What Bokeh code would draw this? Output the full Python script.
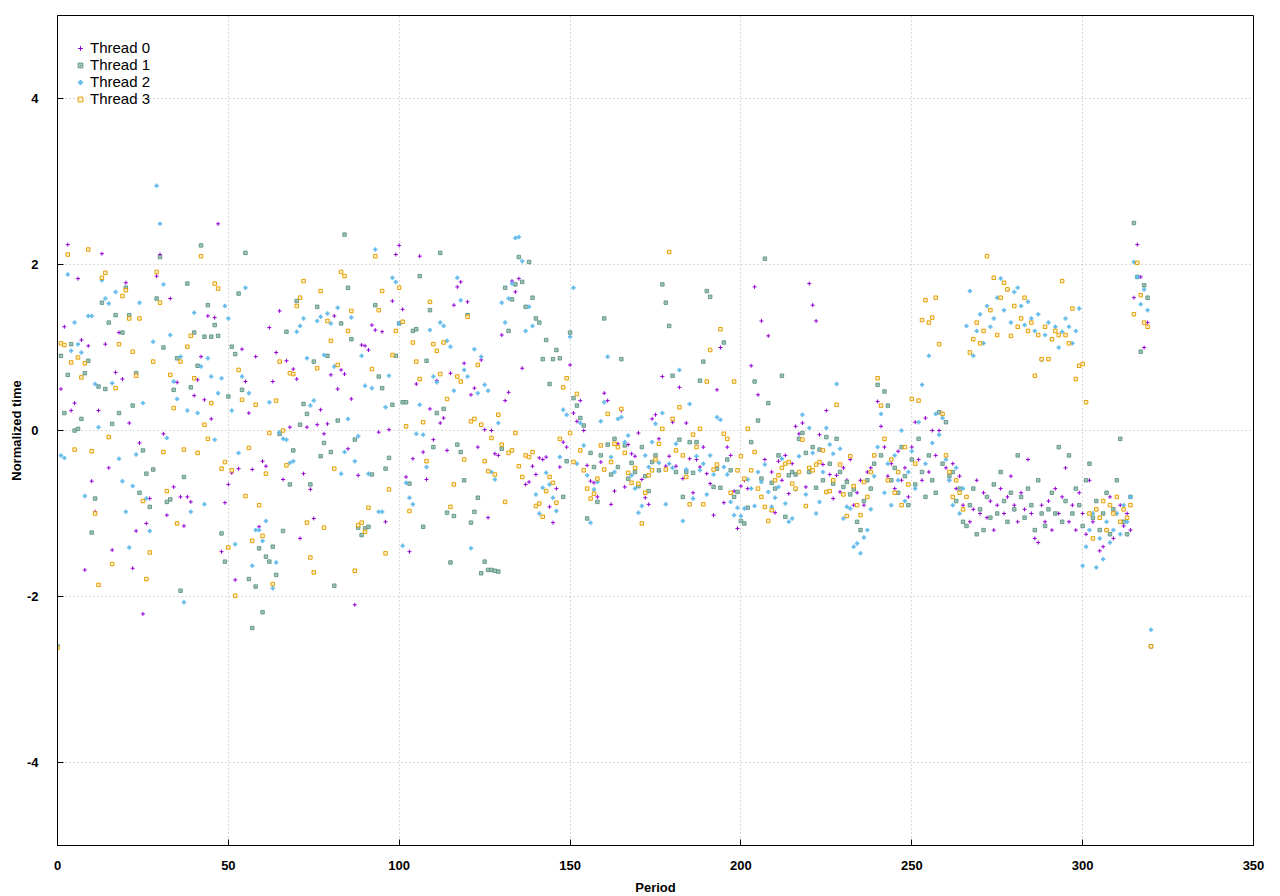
from bokeh.plotting import figure
from bokeh.models import ColumnDataSource, SingleIntervalTicker, Legend, LegendItem, Range1d
from bokeh.embed import file_html
from bokeh.resources import INLINE

periods = list(range(0, 321))

thread0 = [
 -2.6, 0.5, 1.25, 2.24, 0.24, 0.33, 1.83, 1.09, -1.68, 1.02,
 -0.61, -0.98, 0.24, 2.13, 1.04, -0.45, -1.44, 0.7, 1.18, 0.62,
 1.78, 0.09, -1.66, -1.21, -0.15, -2.21, -1.12, -0.82, -0.47, 1.86,
 2.12, -0.04, -1.02, 1.59, -0.68, 0.58, -0.8, -1.15, -0.80, -0.86,
 0.42, 0.61, 0.89, 0.37, 1.38, 0.14, 1.36, 2.49, -1.46, -0.87,
 -0.65, -0.51, -1.80, -0.46, 0.98, 0.59, 0.21, -0.47, 0.89, -1.16,
 -0.37, -0.43, 1.24, 0.59, 0.94, 1.44, -0.59, 0.84, 0.04, 0.74,
 0.62, -1.30, -0.52, 0.04, -0.71, -1.06, 0.07, 0.25, -0.04, 0.08,
 0.67, 1.38, 0.5, 0.73, 0.68, -0.22, 0.38, -2.10, -0.54, 1.03,
 1.02, 0.97, 1.27, 1.21, -0.02, 1.19, -1.10, 0.01, 1.56, 2.12,
 2.23, 1.46, -0.56, -1.46, -0.34, 0.56, 2.10, -0.26, -0.59, 0.26,
 -0.11, 0.6, 0.09, 0.15, -0.24, 0.69, 1.51, 1.73, 1.79, 0.81,
 1.55, 0.43, 0.51, -0.2, 0.85, 0.01, -1.05, 0.0, -0.28, -0.30,
 1.15, 0.36, 0.46, 1.80, 1.67, 1.83, 0.75, -0.65, -0.62, -0.43,
 -0.53, -0.33, -0.35, -0.32, -0.92, -1.11, -0.7, -0.44, -0.14, -0.2,
 0.79, 0.21, 0.11, 0.36, 0.0, -0.42, -0.61, -0.63, -0.80, -0.38,
 0.45, 0.36, -0.89, -0.73, -0.16, 0.24, -0.68, -0.17, -0.28, -0.31,
 -0.03, -0.59, -0.81, -0.89, 0.14, 0.19, -0.10, 0.65, -0.43, -0.31,
 0.10, -0.43, 0.52, -0.58, 0.09, -0.34, -0.75, -0.35, -0.44, -0.2,
 -0.52, -0.64, -1.02, 0.49, 1.00, -0.87, -0.20, -0.3, -0.73, -1.18,
 -0.67, -0.6, -0.70, 0.78, 1.73, 0.43, 1.32, -0.35, 1.14, -0.5,
 -0.99, -0.37, -0.6, -0.3, -0.76, -0.40, 0.05, -0.04, 0.09, -0.68,
 1.77, 1.51, 1.32, -0.05, -0.41, 0.24, -0.53, -0.82, -0.54, -0.74,
 -0.45, -0.6, -0.35, -0.9, -0.75, -0.6, -0.9, -0.5, -0.45, -0.3,
 0.35, 0.05, -0.2, -0.55, -0.4, -0.7, -0.25, -0.6, -0.45, -0.8,
 -0.2, 0.1, -0.35, -0.6, 0.15, -0.5, 0.0, -0.3, 0.0, 0.2,
 -0.45, -0.6, -0.4, -0.7, -0.55, -0.9, -0.8, -1.1, -0.95, -0.6,
 -1.0, -0.75, -1.05, -0.85, -1.2, -0.9, -0.7, -1.0, -0.8, -0.55,
 -0.9, -1.1, -0.75, -0.95, -0.35, -1.0, -1.3, -1.35, -0.9, -1.1,
 -0.85, -1.2, -0.7, -1.0, -0.8, -0.45, -1.1, -0.9, -1.2, -0.75,
 -1.0, -1.25, -0.6, -1.1, -0.95, -1.45, -1.4, -1.2, -0.8, -1.3,
 -1.0, -0.9, -1.15, -1.0, -1.2, 1.6, 2.24, 1.85, 1.0, 1.3,
 -2.6,
]

thread1 = [
 -2.6, 0.9, 0.21, 0.67, 1.04, 0.0, 0.02, 0.14, 0.69, 0.84,
 -1.23, -0.82, 0.53, 1.54, 0.5, 1.30, 0.08, 1.39, 0.21, 1.18,
 1.72, 1.39, 0.30, 0.69, -0.75, -0.24, -0.52, -0.92, -0.47, 1.59,
 2.09, 1.0, -0.86, -0.83, 0.49, 0.87, -1.93, -0.56, 1.77, 0.52,
 1.18, 0.78, 2.23, 1.13, 1.51, 1.13, 1.27, 1.14, -1.24, -1.58,
 0.41, 1.01, 0.92, 1.65, 0.49, 2.14, -1.79, -2.38, -1.88, -1.42,
 -2.19, -1.52, -1.58, -1.40, -1.74, -0.04, -1.21, 1.19, -0.65, -0.24,
 1.56, 0.07, 0.32, 0.20, -0.65, 0.83, 1.49, -0.31, -0.15, 0.90,
 -0.26, -1.87, 0.12, 1.29, 2.36, 1.72, 1.10, -0.11, -1.17, -1.26,
 -1.18, -1.16, -0.53, 1.51, 0.65, 0.51, -0.46, -0.33, 0.31, 0.9,
 1.29, 0.34, 0.34, -0.64, 1.20, 1.22, 1.86, -1.16, 0.84, 1.45,
 -0.20, 0.21, 2.14, 0.26, -0.99, -1.59, -1.03, -0.17, -0.26, -0.6,
 1.39, -1.11, -0.98, -0.81, -1.72, -1.58, -1.68, -1.68, -1.69, -1.70,
 -0.22, 1.72, 1.20, 1.58, 1.76, 2.09, 1.79, 1.49, 2.03, 1.60,
 1.35, 1.30, 0.86, 1.09, 0.56, 0.86, 0.97, 0.87, -0.8, -0.37,
 1.18, 0.39, 0.30, 0.15, 0.06, -1.06, -0.27, -0.44, -0.86, -0.3,
 1.35, -0.17, -0.53, -0.10, -0.44, 0.86, -0.18, -0.58, -0.39, -0.5,
 -0.67, -0.2, -0.55, -0.73, -0.38, -0.30, -0.48, 1.76, 1.54, 1.26,
 0.66, -0.5, -0.11, -0.80, -0.50, -0.14, -0.51, -0.14, 0.60, 0.83,
 1.68, 1.61, -0.68, -0.46, -0.69, 1.06, -0.35, -0.48, -0.80, -0.74,
 -1.09, -1.12, -0.93, -0.14, 0.59, 0.12, -0.58, 2.07, 0.33, -0.63,
 -0.7, -0.3, 0.66, -1.04, -0.54, -0.50, -0.53, -0.10, -0.03, -0.27,
 -0.5, -0.2, -0.69, -0.23, -0.6, -0.08, -0.4, -0.64, -0.10, -0.50,
 -0.68, -0.62, -0.77, -0.71, -1.1, -1.2, -0.85, -0.6, -0.7, -0.4,
 0.55, -0.3, 0.47, 0.3, -0.6, -0.45, -0.75, -0.2, -0.55, -0.9,
 -0.35, -0.65, -0.1, -0.5, -0.8, -0.3, -0.6, -0.75, 0.22, -0.4,
 0.1, -0.55, -0.5, -0.85, -0.7, -1.1, -1.15, -0.9, -0.7, -1.25,
 -0.95, -1.2, -0.8, -1.05, -0.65, -1.0, -0.5, -0.85, -1.1, -0.75,
 -0.95, -0.3, -0.8, -1.05, -0.7, -0.9, -1.2, -0.6, -1.0, -1.15,
 -0.95, -0.75, -1.0, -0.2, -1.1, -0.85, -0.3, -1.0, -0.7, -0.9,
 -1.15, -0.6, -0.4, -1.05, -0.85, -1.2, -1.0, -0.75, -1.25, -0.95,
 -0.6, -0.1, -1.1, -1.25, -0.8, 2.5, 1.85, 0.95, 1.75, 1.6,
 -2.6,
]

thread2 = [
 -2.6, -0.3, -0.33, 1.88, 0.96, 1.30, 1.04, 0.94, -0.79, 1.38,
 1.38, 0.56, 0.04, 1.81, 1.59, 1.53, 0.57, 1.67, -0.34, -0.61,
 -0.98, -1.41, -0.67, -0.29, 1.54, 0.33, -0.82, -1.21, 1.07, 2.95,
 2.49, 1.76, -0.09, 1.15, 0.59, 0.38, 0.89, -2.07, 0.24, -0.98,
 1.42, 0.21, 0.77, -0.89, 0.87, 0.65, -0.11, 0.45, 0.63, 1.50,
 1.35, 0.24, -1.37, -0.27, 0.65, 1.72, 0.45, -1.63, -1.20, -1.2,
 -1.33, -1.09, 0.34, -1.90, -1.59, -0.02, -0.10, -0.11, -0.39, -0.37,
 1.19, 1.26, 1.35, 0.87, 0.30, 0.36, 1.32, 1.37, 0.91, 1.41,
 1.29, 0.77, 1.48, -0.52, -0.26, 0.14, 1.36, -0.37, -0.07, 0.90,
 0.54, -0.52, 0.51, 2.18, -0.98, -0.98, 0.28, 0.66, 1.84, 1.79,
 1.29, -1.39, -0.63, -0.81, -0.89, -0.04, 0.31, -0.05, -0.44, 1.21,
 0.65, 0.58, 1.30, 1.26, 1.08, 1.01, 0.48, 1.84, 1.57, 0.73,
 0.65, -1.42, 0.98, 0.45, 0.89, 0.55, 0.48, -0.50, -0.59, 0.09,
 1.54, 1.30, 1.59, 1.77, 2.32, 2.33, 2.04, 1.20, 1.49, 1.26,
 -0.77, -1.00, -0.69, -0.51, -0.65, -0.81, -0.97, -0.32, 0.25, 0.19,
 1.13, 1.72, -0.4, 0.09, -0.18, -0.54, -1.11, -0.71, -0.62, 0.11,
 0.34, 0.89, -0.32, -0.50, 0.14, 0.16, -0.14, -0.06, -0.54, -0.70,
 -0.99, -0.91, -0.3, -0.44, -0.14, 0.08, -0.39, 0.21, -0.89, -0.40,
 -0.45, -0.16, 0.73, -1.09, -0.47, 0.32, -0.82, -0.31, -0.48, -0.40,
 -0.77, -0.3, -0.53, 0.16, 0.13, -0.44, -0.53, -0.86, -1.02, -0.93,
 -1.03, -0.94, -0.59, -0.7, -0.91, -0.5, -0.62, -0.41, -0.74, -0.92,
 -0.81, -0.68, -0.34, -0.88, -1.10, -1.06, -0.71, -0.31, 0.19, -0.77,
 0.03, -0.27, -1.00, -0.86, -0.5, 0.03, -0.17, -0.28, 0.56, -0.22,
 -1.06, -0.92, -0.94, -1.40, -1.36, -1.48, -1.29, -1.2, -0.95, -0.55,
 -0.2, 0.2, -0.75, -0.4, -0.9, -0.3, -0.6, 0.0, -0.85, -0.5,
 -0.25, -0.7, 0.1, 0.55, -0.4, 0.9, -0.15, 0.2, -0.05, 0.15,
 -0.35, -0.6, -0.9, -0.45, -1.0, -0.7, 1.26, 1.68, 0.9, 1.2,
 1.4, 1.05, 1.5, 1.25, 1.35, 1.6, 1.83, 1.45, 1.7, 1.3,
 1.67, 1.72, 1.5, 1.27, 1.55, 1.35, 1.2, 1.4, 0.85, 1.15,
 1.3, 1.1, 1.25, 1.0, 1.19, 1.35, 1.25, 1.05, 1.2, 1.47,
 -1.63, -1.4, -1.2, -1.0, -1.65, -1.3, -1.55, -1.1, -1.35, -1.2,
 -1.0, -1.25, -0.9, -1.1, -0.8, 2.03, 1.85, 1.52, 1.7, 1.45,
 -2.4,
]

thread3 = [
 -2.62, 1.05, 1.03, 2.12, 0.82, -0.23, 0.88, 0.64, 0.81, 2.18,
 -0.25, -1.0, -1.86, 1.84, 1.90, -0.08, -1.61, 0.51, 1.04, 1.62,
 1.69, 1.35, 0.95, 0.66, 1.35, -0.85, -1.79, -1.47, 0.83, 1.91,
 1.54, -0.26, -0.73, 0.67, 0.27, -1.12, 0.83, -0.23, 1.01, 1.14,
 0.63, -0.27, 2.10, 0.07, -0.10, 0.33, 1.77, 1.71, -0.46, -0.38,
 -1.41, -0.48, -1.99, 0.73, 0.37, -0.79, -0.21, -1.33, 0.31, -0.90,
 -1.27, -0.52, -0.03, -1.85, 0.36, 0.83, 0.0, -0.42, 0.69, 0.68,
 1.5, 1.60, 1.80, -1.11, -1.53, -1.71, 0.75, 1.68, -1.17, 1.32,
 1.08, -0.46, 0.79, 1.91, 1.86, 1.20, 1.44, -1.69, -1.14, -1.11,
 -1.22, -0.93, 0.74, 2.10, 1.45, 1.68, -1.48, -0.71, 0.91, 1.20,
 1.72, 1.31, 0.05, -0.97, 1.06, 0.83, 0.62, 0.10, -0.37, 1.55,
 1.04, 0.96, 0.68, 1.06, 0.38, -0.92, -0.65, 0.65, 0.59, -0.35,
 1.37, 0.11, 0.14, 0.79, 0.07, -0.37, -0.49, -0.09, -0.53, 0.19,
 -0.17, -0.86, -0.27, -0.24, -0.03, -0.43, -0.56, -0.30, -0.32, -0.26,
 -0.91, -0.88, -1.04, -0.73, -0.56, -0.63, -0.87, -0.10, 0.52, 0.63,
 -0.03, -0.38, 0.44, -0.24, -0.48, -0.70, -0.82, -0.76, -0.58, -0.18,
 -0.47, 0.20, -0.38, -0.16, -0.2, 0.26, -0.27, -0.51, -0.63, -0.45,
 -0.64, -1.12, -0.75, -0.54, -0.48, -0.35, -0.16, 0.02, -0.47, 2.15,
 0.14, -0.24, 0.28, -0.3, -0.56, -0.89, -0.05, -0.20, 0.02, -0.89,
 0.59, 0.97, -0.47, -0.41, 1.22, -0.04, -0.10, -0.75, 0.59, -0.48,
 -0.31, -0.58, 0.02, -0.48, -0.26, -0.7, -0.8, -0.92, -1.09, -0.96,
 -0.6, -0.54, -0.45, -0.40, -0.38, -0.64, -0.7, -0.5, -0.11, -0.91,
 -0.45, -0.48, -0.41, -0.38, -0.24, -0.74, -0.73, -0.6, 0.31, -0.41,
 -0.77, -1.03, -0.31, -0.67, -0.9, -1.02, -0.62, -0.8, -0.5, -0.3,
 0.63, 0.3, -0.1, -0.6, -0.35, -0.75, -0.5, -0.9, -0.2, -0.65,
 0.38, -0.4, 0.36, 1.33, 1.57, 1.3, 1.36, 1.6, 1.04, 0.2,
 -0.3, -0.5, -0.8, -0.6, -0.75, -0.95, -0.8, 0.94, 1.1, 1.3,
 1.05, 1.2, 2.1, 1.45, 1.84, 1.15, 1.6, 1.78, 1.7, 1.14,
 1.5, 1.25, 1.35, 1.6, 1.2, 1.3, 0.66, 1.15, 0.86, 1.25,
 0.86, 1.1, 1.2, 1.15, 1.8, 1.15, 1.05, 1.47, 0.62, 0.78,
 0.8, 0.34, -1.0, -1.3, -0.95, -1.05, -0.85, -1.2, -0.9, -1.0,
 -0.8, -1.1, -0.95, -1.05, -0.9, 1.4, 2.02, 1.63, 1.3, 1.25,
 -2.6,
]

series_names = ["Thread 0", "Thread 1", "Thread 2", "Thread 3"]
x_ticks_interval = 50
y_ticks_interval = 2
y_tick_labels = {-4: "-4", -2: "-2", 0: "0", 2: "2", 4: "4"}

FONT = "Liberation Sans"

p = figure(
    frame_width=1196, frame_height=830,
    x_range=Range1d(0, 350), y_range=Range1d(-5, 5),
    output_backend="svg", toolbar_location=None,
    min_border_left=57, min_border_right=19, min_border_top=15, min_border_bottom=5,
    background_fill_color="white", border_fill_color="white",
)

p.outline_line_color = "black"
p.outline_line_width = 1
p.outline_line_alpha = 1

for ax in (p.xaxis[0], p.yaxis[0]):
    ax.axis_line_color = "black"
    ax.major_tick_in = 6
    ax.major_tick_out = 0
    ax.minor_tick_in = 0
    ax.minor_tick_out = 0
    ax.major_tick_line_color = "black"
    ax.major_label_text_font = FONT
    ax.major_label_text_font_style = "bold"
    ax.major_label_text_font_size = "13px"
    ax.major_label_text_color = "black"
    ax.axis_label_text_font = FONT
    ax.axis_label_text_font_style = "bold"
    ax.axis_label_text_font_size = "13px"
    ax.axis_label_text_color = "black"

p.xaxis.ticker = SingleIntervalTicker(interval=x_ticks_interval, num_minor_ticks=0)
p.yaxis.ticker = SingleIntervalTicker(interval=y_ticks_interval, num_minor_ticks=0)
p.yaxis.major_label_overrides = y_tick_labels
p.xaxis.axis_label = "Period"
p.yaxis.axis_label = "Normalized time"
p.xaxis.major_label_standoff = 15
p.xaxis.axis_label_standoff = 7
p.yaxis.major_label_standoff = 19
p.yaxis.axis_label_standoff = 0

p.xgrid.grid_line_color = "#b8b8b8"
p.ygrid.grid_line_color = "#b8b8b8"
p.xgrid.grid_line_dash = "1 3"
p.ygrid.grid_line_dash = "1 3"
p.xgrid.grid_line_width = 1
p.ygrid.grid_line_width = 1

src0 = ColumnDataSource(dict(x=periods, y=thread0))
src1 = ColumnDataSource(dict(x=periods, y=thread1))
src2 = ColumnDataSource(dict(x=periods, y=thread2))
src3 = ColumnDataSource(dict(x=periods, y=thread3))

r0 = p.scatter("x", "y", source=src0, marker="cross", size=4,
               line_color="#9400d3", line_width=1)
r1 = p.scatter("x", "y", source=src1, marker="square_dot", size=3.5,
               line_color="#4f8a7a", fill_color="#a9c9bd", line_width=0.8)
r2 = p.scatter("x", "y", source=src2, marker="plus", size=4,
               fill_color="#63bbec", line_color="#63bbec", line_width=0.3)
r3 = p.scatter("x", "y", source=src3, marker="square", size=3.5,
               line_color="#e69f00", fill_color="#fff3d6", line_width=1)

legend = Legend(
    items=[LegendItem(label=n, renderers=[r]) for n, r in zip(series_names, [r0, r1, r2, r3])],
    location=(12, 733),
    label_text_font=FONT, label_text_font_size="15px", label_text_color="black",
    background_fill_alpha=0, border_line_alpha=0,
    glyph_width=12, glyph_height=16, label_height=16, label_standoff=4,
    spacing=0, margin=0, padding=5,
)
p.add_layout(legend)

open("out.html", "w").write(file_html(p, INLINE))
